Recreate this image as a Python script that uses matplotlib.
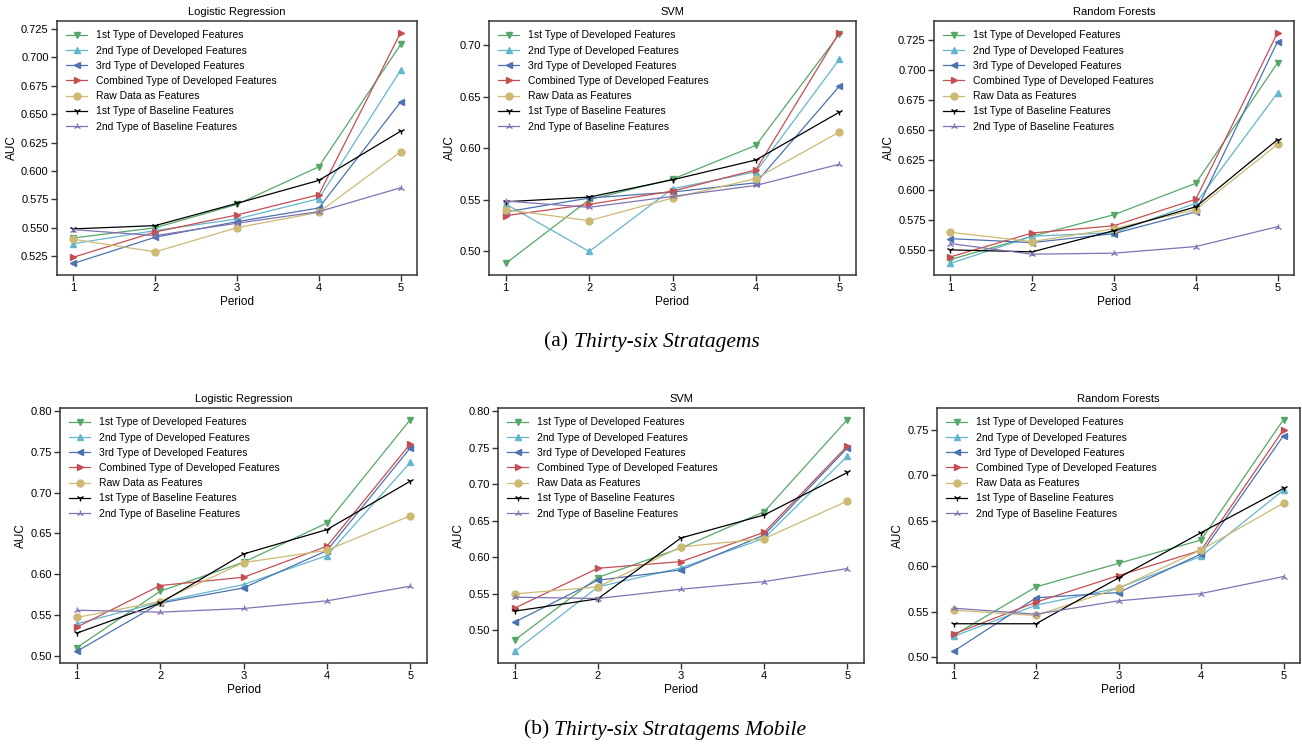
import numpy as np
import matplotlib
matplotlib.use("Agg")
import matplotlib.pyplot as plt

periods = [1, 2, 3, 4, 5]

series_names = [
    "1st Type of Developed Features",
    "2nd Type of Developed Features",
    "3rd Type of Developed Features",
    "Combined Type of Developed Features",
    "Raw Data as Features",
    "1st Type of Baseline Features",
    "2nd Type of Baseline Features",
]
colors = ["#55A868", "#64B5CD", "#4C72B0", "#C44E52", "#CCB974", "#000000", "#8172B2"]
markers = ["v", "^", "<", ">", "o", "1", "2"]

# (a) Thirty-six Stratagems
lr_a = [
    [0.541, 0.550, 0.5706, 0.6037, 0.7113],
    [0.536, 0.5475, 0.5577, 0.5756, 0.6887],
    [0.5186, 0.5417, 0.5554, 0.5674, 0.6607],
    [0.5241, 0.5463, 0.5613, 0.5791, 0.7218],
    [0.5399, 0.5288, 0.5501, 0.5636, 0.6168],
    [0.549, 0.5519, 0.5715, 0.5917, 0.635],
    [0.5484, 0.5431, 0.554, 0.5642, 0.5852],
]
svm_a = [
    [0.4884, 0.5502, 0.5701, 0.6029, 0.7106],
    [0.546, 0.500, 0.5608, 0.5772, 0.6862],
    [0.5383, 0.5518, 0.5576, 0.5666, 0.6601],
    [0.5347, 0.5457, 0.5585, 0.5791, 0.7122],
    [0.5405, 0.5299, 0.5518, 0.5707, 0.6158],
    [0.5482, 0.5527, 0.5695, 0.5887, 0.635],
    [0.5489, 0.5428, 0.5534, 0.564, 0.5846],
]
rf_a = [
    [0.5417, 0.5611, 0.5791, 0.6053, 0.7059],
    [0.5384, 0.5611, 0.5641, 0.5887, 0.6808],
    [0.5591, 0.5558, 0.5633, 0.5815, 0.7236],
    [0.5439, 0.5638, 0.5699, 0.592, 0.7311],
    [0.5644, 0.5566, 0.5674, 0.5834, 0.6379],
    [0.5497, 0.5481, 0.5658, 0.5857, 0.6418],
    [0.555, 0.5461, 0.547, 0.5525, 0.5691],
]

# (b) Thirty-six Stratagems Mobile
lr_b = [
    [0.5106, 0.5795, 0.6149, 0.6628, 0.789],
    [0.5398, 0.5662, 0.5877, 0.623, 0.7367],
    [0.5061, 0.565, 0.5836, 0.6291, 0.7545],
    [0.5357, 0.5865, 0.5966, 0.6344, 0.7594],
    [0.5475, 0.567, 0.6145, 0.6295, 0.6717],
    [0.5284, 0.565, 0.625, 0.6547, 0.7139],
    [0.5564, 0.554, 0.5585, 0.5678, 0.5857],
]
svm_b = [
    [0.4868, 0.5724, 0.613, 0.6625, 0.7886],
    [0.4713, 0.5596, 0.5856, 0.6261, 0.7385],
    [0.5114, 0.5687, 0.5828, 0.6307, 0.7499],
    [0.5305, 0.5851, 0.5942, 0.6343, 0.7526],
    [0.550, 0.5596, 0.6143, 0.6257, 0.6771],
    [0.5264, 0.5433, 0.6266, 0.658, 0.7162],
    [0.5455, 0.5437, 0.5564, 0.5669, 0.5847],
]
rf_b = [
    [0.5238, 0.5771, 0.603, 0.6286, 0.761],
    [0.5227, 0.557, 0.576, 0.6107, 0.6835],
    [0.5062, 0.5651, 0.5709, 0.6133, 0.7434],
    [0.5252, 0.5603, 0.5896, 0.6173, 0.750],
    [0.5515, 0.5457, 0.5757, 0.6177, 0.6692],
    [0.5366, 0.5366, 0.587, 0.6367, 0.6853],
    [0.5537, 0.5471, 0.5618, 0.5698, 0.5885],
]

titles = ["Logistic Regression", "SVM", "Random Forests"]

plt.rcParams["font.family"] = ["Liberation Sans", "DejaVu Sans"]
plt.rcParams["font.size"] = 8

W, H = 1302, 748
fig = plt.figure(figsize=(W / 100, H / 100), dpi=100)

# axes boxes in pixels: left, top, right, bottom
boxes = [
    [(57, 21, 417, 275), (489, 21, 856, 275), (934, 21, 1294, 275)],
    [(60, 408, 427, 663), (498, 408, 864, 663), (937, 408, 1300, 663)],
]
rows = [[lr_a, svm_a, rf_a], [lr_b, svm_b, rf_b]]

for r in range(2):
    for c in range(3):
        l, t, rr, b = boxes[r][c]
        ax = fig.add_axes([l / W, 1 - b / H, (rr - l) / W, (b - t) / H])
        data = rows[r][c]
        for i, name in enumerate(series_names):
            ax.plot(periods, data[i], color=colors[i], marker=markers[i],
                    markersize=5, lw=0.9, label=name)
        ax.set_title(titles[c], fontsize=8, pad=4)
        ax.set_xlabel("Period", fontsize=8.5, labelpad=2)
        ax.set_ylabel("AUC", fontsize=8.5, labelpad=2)
        ax.set_xticks(periods)
        ax.tick_params(direction="out", length=4, width=1, colors="#333333",
                       labelcolor="black", labelsize=8, pad=2)
        for sp in ax.spines.values():
            sp.set_color("#333333")
            sp.set_linewidth(1.1)
        ax.legend(loc="upper left", frameon=False, fontsize=7.5, handlelength=2.0,
                  handletextpad=0.8, labelspacing=0.5, borderaxespad=0.5)
        if r == 0 and c == 0:
            ax.set_yticks(np.arange(0.525, 0.726, 0.025))
            ax.yaxis.set_major_formatter(matplotlib.ticker.FormatStrFormatter("%.3f"))
        if r == 0 and c == 2:
            ax.set_yticks(np.arange(0.55, 0.726, 0.025))
            ax.yaxis.set_major_formatter(matplotlib.ticker.FormatStrFormatter("%.3f"))

# captions with italic part, centred on given pixel x
fig.canvas.draw()
renderer = fig.canvas.get_renderer()
captions = [("(a) ", "Thirty-six Stratagems", 652, 342),
            ("(b) ", "Thirty-six Stratagems Mobile", 665, 730)]
for pre, it, xc, ypix in captions:
    t1 = fig.text(0, 1 - ypix / H, pre, family="Liberation Serif", fontsize=15.5, va="center")
    t2 = fig.text(0, 1 - ypix / H, it, family="Liberation Serif", style="italic", fontsize=15.5, va="center")
    w1 = t1.get_window_extent(renderer).width
    w2 = t2.get_window_extent(renderer).width
    x0 = xc - (w1 + w2) / 2
    t1.set_x(x0 / W)
    t2.set_x((x0 + w1) / W)

fig.savefig("out.png", dpi=100)
